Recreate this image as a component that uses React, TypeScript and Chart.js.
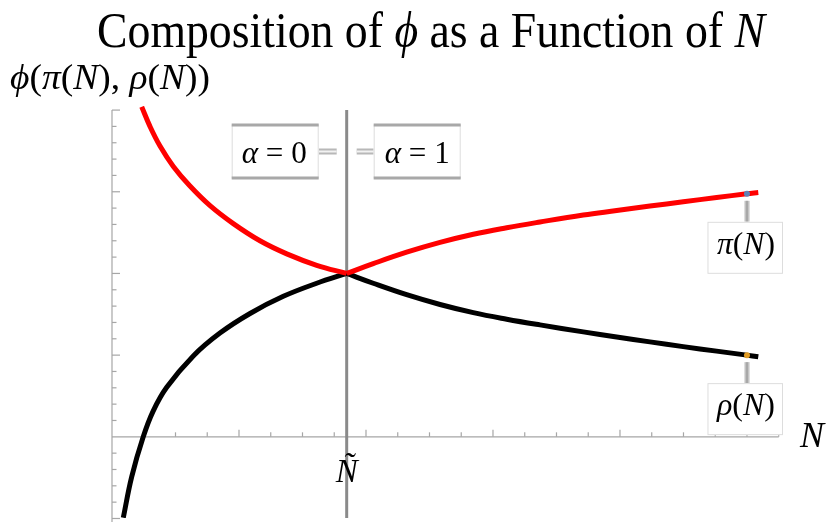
import React, { useEffect, useRef } from "react";
import { Chart, registerables } from "chart.js";

Chart.register(...registerables);

// ---- data ----
const piN = [0.234, 0.299, 0.378, 0.483, 0.614, 0.772, 0.955, 1.165, 1.376, 1.612, 1.848, 2.057, 2.32, 2.583, 2.845, 3.108, 3.37, 3.711, 3.974, 4.236, 4.498, 4.761, 4.998, 5.089];
const piValues = [4.04, 3.8, 3.56, 3.31, 3.07, 2.83, 2.61, 2.4, 2.24, 2.1, 2.0, 2.12, 2.26, 2.38, 2.48, 2.56, 2.63, 2.715, 2.77, 2.825, 2.877, 2.93, 2.975, 2.99];

const rhoN = [0.089, 0.155, 0.246, 0.324, 0.431, 0.64, 0.85, 1.087, 1.349, 1.612, 1.848, 2.057, 2.32, 2.583, 2.845, 3.108, 3.37, 3.711, 3.974, 4.236, 4.498, 4.761, 4.998, 5.089];
const rhoValues = [-0.99, -0.49, 0.0, 0.315, 0.606, 0.99, 1.27, 1.51, 1.72, 1.88, 2.0, 1.88, 1.74, 1.62, 1.52, 1.44, 1.37, 1.285, 1.222, 1.162, 1.104, 1.049, 1.0, 0.98];

const nTilde = 1.848;
const markerN = 5.0;
const piMarker = 2.975;
const rhoMarker = 1.0;

const xMin = 0;
const xMax = 5.26;
const yMin = -0.994;
const yMax = 4.05;
const xTickStep = 0.25;
const yTickStep = 0.2;

const titleSegs = [
  { t: "Composition of ", i: false },
  { t: "\u03D5", i: true },
  { t: " as a Function of ", i: false },
  { t: "N", i: true },
];
const yLabelSegs = [
  { t: "\u03D5", i: true },
  { t: "(", i: false },
  { t: "\u03C0", i: true },
  { t: "(", i: false },
  { t: "N", i: true },
  { t: "), ", i: false },
  { t: "\u03C1", i: true },
  { t: "(", i: false },
  { t: "N", i: true },
  { t: "))", i: false },
];
const xLabel = "N";
const nTildeLabel = "\u00D1";
const alpha0Segs = [{ t: "\u03B1", i: true }, { t: " = 0", i: false }];
const alpha1Segs = [{ t: "\u03B1", i: true }, { t: " = 1", i: false }];
const piLabelSegs = [{ t: "\u03C0", i: true }, { t: "(", i: false }, { t: "N", i: true }, { t: ")", i: false }];
const rhoLabelSegs = [{ t: "\u03C1", i: true }, { t: "(", i: false }, { t: "N", i: true }, { t: ")", i: false }];

const FONT = '"Liberation Serif", "DejaVu Serif", serif';

type Seg = { t: string; i: boolean };

function drawRich(ctx: CanvasRenderingContext2D, segs: Seg[], size: number, x: number, y: number, width?: number, center?: boolean) {
  const fonts = segs.map((s) => `${s.i ? "italic " : ""}${size}px ${FONT}`);
  let total = 0;
  const ws = segs.map((s, k) => {
    ctx.font = fonts[k];
    const w = ctx.measureText(s.t).width;
    total += w;
    return w;
  });
  const sc = width ? width / total : 1;
  ctx.save();
  ctx.translate(center ? x - (total * sc) / 2 : x, y);
  ctx.scale(sc, 1);
  ctx.textBaseline = "alphabetic";
  ctx.textAlign = "left";
  ctx.fillStyle = "#000";
  let cx = 0;
  segs.forEach((s, k) => {
    ctx.font = fonts[k];
    ctx.fillText(s.t, cx, 0);
    cx += ws[k];
  });
  ctx.restore();
}

function leaderH(ctx: CanvasRenderingContext2D, x1: number, x2: number, y: number) {
  ctx.fillStyle = "#b8b8b8";
  ctx.fillRect(x1, y - 3, x2 - x1, 6);
  ctx.fillStyle = "#f2f2f2";
  ctx.fillRect(x1, y - 1, x2 - x1, 2);
}
function leaderV(ctx: CanvasRenderingContext2D, x: number, y1: number, y2: number) {
  ctx.fillStyle = "#dedede";
  ctx.fillRect(x - 3, y1, 6, y2 - y1);
  ctx.fillStyle = "#a8a8a8";
  ctx.fillRect(x - 1.5, y1, 3, y2 - y1);
}

const axesPlugin = {
  id: "mmaAxes",
  beforeDatasetsDraw(chart: any) {
    const ctx: CanvasRenderingContext2D = chart.ctx;
    const xs = chart.scales.x;
    const ys = chart.scales.y;
    const x0 = xs.getPixelForValue(xMin);
    const y0 = ys.getPixelForValue(0);
    ctx.save();
    ctx.strokeStyle = "#a6a6a6";
    ctx.lineWidth = 1.2;
    ctx.beginPath();
    ctx.moveTo(x0, ys.getPixelForValue(4));
    ctx.lineTo(x0, chart.height);
    ctx.stroke();
    const xEnd = xs.getPixelForValue(5.25);
    ctx.beginPath();
    ctx.moveTo(x0, y0);
    ctx.lineTo(xEnd, y0);
    ctx.stroke();
    for (let k = 1; k * xTickStep <= 5.25 + 1e-9; k++) {
      const v = k * xTickStep;
      const px = xs.getPixelForValue(v);
      const major = k % 4 === 0;
      ctx.beginPath();
      ctx.moveTo(px, y0);
      ctx.lineTo(px, y0 - (major ? 7 : 4.5));
      ctx.stroke();
    }
    for (let k = -5; k <= 20; k++) {
      if (k === 0) continue;
      const v = k * yTickStep;
      const py = ys.getPixelForValue(v);
      const major = k % 5 === 0;
      ctx.beginPath();
      ctx.moveTo(x0, py);
      ctx.lineTo(x0 + (major ? 8 : 4.5), py);
      ctx.stroke();
    }
    ctx.restore();
  },
  afterDraw(chart: any) {
    const ctx: CanvasRenderingContext2D = chart.ctx;
    const xs = chart.scales.x;
    const ys = chart.scales.y;
    ctx.save();
    drawRich(ctx, titleSegs, 50, 97, 47, 668);
    drawRich(ctx, yLabelSegs, 36, 10, 89, 200);
    drawRich(ctx, [{ t: xLabel, i: true }], 36, 800, 447);
    const xN = xs.getPixelForValue(nTilde);
    drawRich(ctx, [{ t: nTildeLabel, i: true }], 33, xN, 482, undefined, true);

    const boxTop = 125;
    const boxBot = 178;
    const midY = 151.5;
    const drawAlphaBox = (l: number, r: number) => {
      ctx.fillStyle = "#fff";
      ctx.fillRect(l, boxTop, r - l, boxBot - boxTop);
      ctx.strokeStyle = "#dddddd";
      ctx.lineWidth = 1;
      ctx.strokeRect(l + 0.5, boxTop, r - l - 1, boxBot - boxTop);
      ctx.fillStyle = "#a8a8a8";
      ctx.fillRect(l, boxTop - 1.5, r - l, 3);
      ctx.fillRect(l, boxBot - 1.5, r - l, 3);
    };
    leaderH(ctx, xN - 28, xN - 10, midY);
    leaderH(ctx, xN + 10, xN + 27, midY);
    drawAlphaBox(xN - 115, xN - 28);
    drawAlphaBox(xN + 27, xN + 114);
    drawRich(ctx, alpha0Segs, 32, xN - 105, 163, 65);
    drawRich(ctx, alpha1Segs, 32, xN + 38, 163, 65);

    const drawValBox = (segs: Seg[], mx: number, my: number) => {
      const top = my + 28;
      leaderV(ctx, mx, my + 7, top);
      const l = mx - 39.5;
      const r = mx + 36;
      ctx.fillStyle = "#fff";
      ctx.fillRect(l, top, r - l, 52);
      ctx.strokeStyle = "#dddddd";
      ctx.lineWidth = 1;
      ctx.strokeRect(l + 0.5, top + 0.5, r - l - 1, 51);
      drawRich(ctx, segs, 32, mx - 1, top + 32, 58, true);
    };
    drawValBox(piLabelSegs, xs.getPixelForValue(markerN), ys.getPixelForValue(piMarker));
    drawValBox(rhoLabelSegs, xs.getPixelForValue(markerN), ys.getPixelForValue(rhoMarker));
    ctx.restore();
  },
};

function branch(ns: number[], vs: number[], left: boolean) {
  const pts = ns.map((n, k) => ({ x: n, y: vs[k] }));
  return pts.filter((p) => (left ? p.x <= nTilde + 1e-9 : p.x >= nTilde - 1e-9));
}

export default function App() {
  const ref = useRef<HTMLCanvasElement | null>(null);
  useEffect(() => {
    if (!ref.current) return;
    const curve = (data: any[], color: string, order: number) => ({
      data,
      borderColor: color,
      borderWidth: 5,
      pointRadius: 0,
      tension: 0.4,
      borderCapStyle: "butt",
      order,
    });
    const chart = new Chart(ref.current, {
      type: "line",
      data: {
        datasets: [
          {
            label: "markerPi",
            data: [{ x: markerN, y: piMarker }],
            showLine: false,
            pointRadius: 3,
            pointBackgroundColor: "#5E81B5",
            pointBorderWidth: 0,
            order: 0,
          },
          {
            label: "markerRho",
            data: [{ x: markerN, y: rhoMarker }],
            showLine: false,
            pointRadius: 3,
            pointBackgroundColor: "#E19C24",
            pointBorderWidth: 0,
            order: 0,
          },
          { label: "pi left", ...curve(branch(piN, piValues, true), "#ff0000", 1) },
          { label: "pi right", ...curve(branch(piN, piValues, false), "#ff0000", 1) },
          { label: "rho left", ...curve(branch(rhoN, rhoValues, true), "#000000", 2) },
          { label: "rho right", ...curve(branch(rhoN, rhoValues, false), "#000000", 2) },
          {
            label: "Ntilde",
            data: [
              { x: nTilde, y: -1.2 },
              { x: nTilde, y: 4.0 },
            ],
            borderColor: "#8a8a8a",
            borderWidth: 3,
            pointRadius: 0,
            order: 3,
          },
        ],
      },
      options: {
        animation: false,
        responsive: true,
        maintainAspectRatio: false,
        layout: { padding: { left: 112, right: 48, top: 106, bottom: 0 } },
        scales: {
          x: { type: "linear", min: xMin, max: xMax, display: false },
          y: { type: "linear", min: yMin, max: yMax, display: false },
        },
        plugins: { legend: { display: false }, tooltip: { enabled: false }, title: { display: false } },
      },
      plugins: [axesPlugin],
    } as any);
    return () => chart.destroy();
  }, []);
  return (
    <div style={{ position: "absolute", left: 0, top: 0, width: 828, height: 522, background: "#fff" }}>
      <canvas ref={ref} />
    </div>
  );
}
